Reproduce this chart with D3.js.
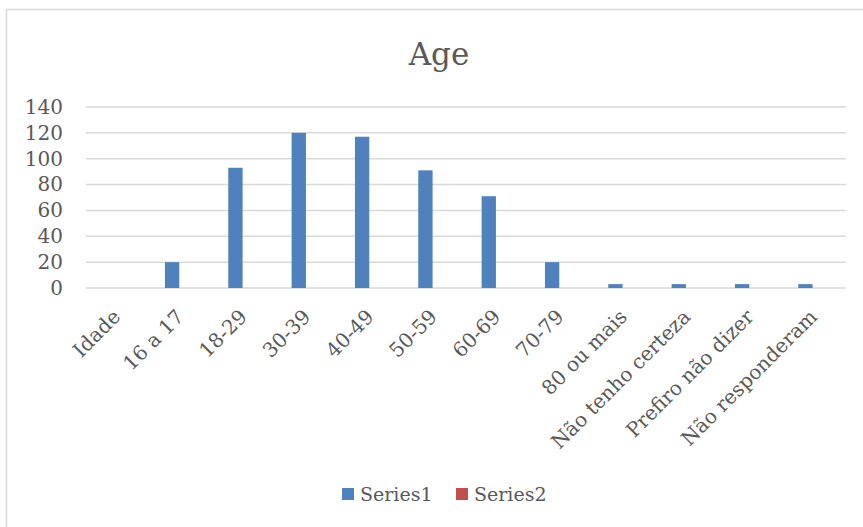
<!DOCTYPE html>
<html>
<head>
<meta charset="utf-8">
<script src="https://cdn.jsdelivr.net/npm/d3@7"></script>
<style>
  html, body { margin: 0; padding: 0; background: #fff; }
  svg { display: block; }
  text { font-family: "DejaVu Serif", "Liberation Serif", serif; fill: #595959; }
</style>
</head>
<body>
<svg id="chart" width="863" height="527"></svg>
<script>
const categories = ["Idade", "16 a 17", "18-29", "30-39", "40-49", "50-59", "60-69", "70-79", "80 ou mais", "Não tenho certeza", "Prefiro não dizer", "Não responderam"];
const seriesNames = ["Series1", "Series2"];
const series1 = [0, 20, 93, 120, 117, 91, 71, 20, 3, 3, 3, 3];
const series2 = [0, 0, 0, 0, 0, 0, 0, 0, 0, 0, 0, 0];
const yTicks = [0, 20, 40, 60, 80, 100, 120, 140];
const title = "Age";
const colors = ["#4F81BD", "#C0504D"];

const svg = d3.select("#chart");
const W = 863, H = 527;
const plot = { left: 86, right: 846, top: 107, bottom: 288 };

// chart border
svg.append("rect")
  .attr("x", 6.5).attr("y", 9.5)
  .attr("width", W + 10).attr("height", H + 10)
  .attr("fill", "none").attr("stroke", "#d9d9d9").attr("stroke-width", 1.5);

// title
svg.append("text")
  .attr("x", 439).attr("y", 65)
  .attr("text-anchor", "middle")
  .style("font-size", "31px")
  .text(title);

const x = d3.scaleBand().domain(categories).range([plot.left, plot.right]).paddingInner(0).paddingOuter(0);
const x1 = d3.scaleBand().domain(seriesNames).range([0, x.bandwidth()]).paddingInner(0).paddingOuter(1.21).align(0.45);
const y = d3.scaleLinear().domain([0, 140]).range([plot.bottom, plot.top]);

// gridlines
svg.append("g")
  .selectAll("line")
  .data(yTicks)
  .join("line")
  .attr("x1", plot.left).attr("x2", plot.right)
  .attr("y1", d => y(d)).attr("y2", d => y(d))
  .attr("stroke", "#d9d9d9").attr("stroke-width", 1.5);

// y axis labels
const yAxis = d3.axisLeft(y).tickValues(yTicks).tickSize(0).tickPadding(0);
const gy = svg.append("g").attr("transform", `translate(63,0)`).call(yAxis);
gy.select(".domain").remove();
gy.selectAll("text").style("font-size", "20px").attr("fill", "#595959").attr("font-family", null);

// bars
const data = categories.map((c, i) => ({ cat: c, vals: [series1[i], series2[i]] }));
const groups = svg.append("g").selectAll("g")
  .data(data)
  .join("g")
  .attr("transform", d => `translate(${x(d.cat)},0)`);
groups.selectAll("rect")
  .data(d => d.vals.map((v, k) => ({ name: seriesNames[k], v, k })))
  .join("rect")
  .attr("x", d => x1(d.name))
  .attr("width", x1.bandwidth())
  .attr("y", d => y(d.v))
  .attr("height", d => y(0) - y(d.v))
  .attr("fill", d => colors[d.k]);

// x axis labels
const xAxis = d3.axisBottom(x).tickSize(0).tickPadding(0);
const gx = svg.append("g").attr("transform", `translate(0,${plot.bottom})`).call(xAxis);
gx.select(".domain").remove();
gx.selectAll("text")
  .style("font-size", "20px")
  .attr("fill", "#595959")
  .attr("font-family", null)
  .attr("text-anchor", "end")
  .attr("dy", null)
  .attr("y", 0)
  .attr("transform", "translate(4,30) rotate(-45)");

// legend
const legend = svg.append("g").attr("transform", "translate(342,488)");
const lx = [0, 114];
seriesNames.forEach((n, i) => {
  legend.append("rect").attr("x", lx[i]).attr("y", 0).attr("width", 12).attr("height", 12).attr("fill", colors[i]);
  legend.append("text").attr("x", lx[i] + 18).attr("y", 13).style("font-size", "19px").text(n);
});
</script>
</body>
</html>
